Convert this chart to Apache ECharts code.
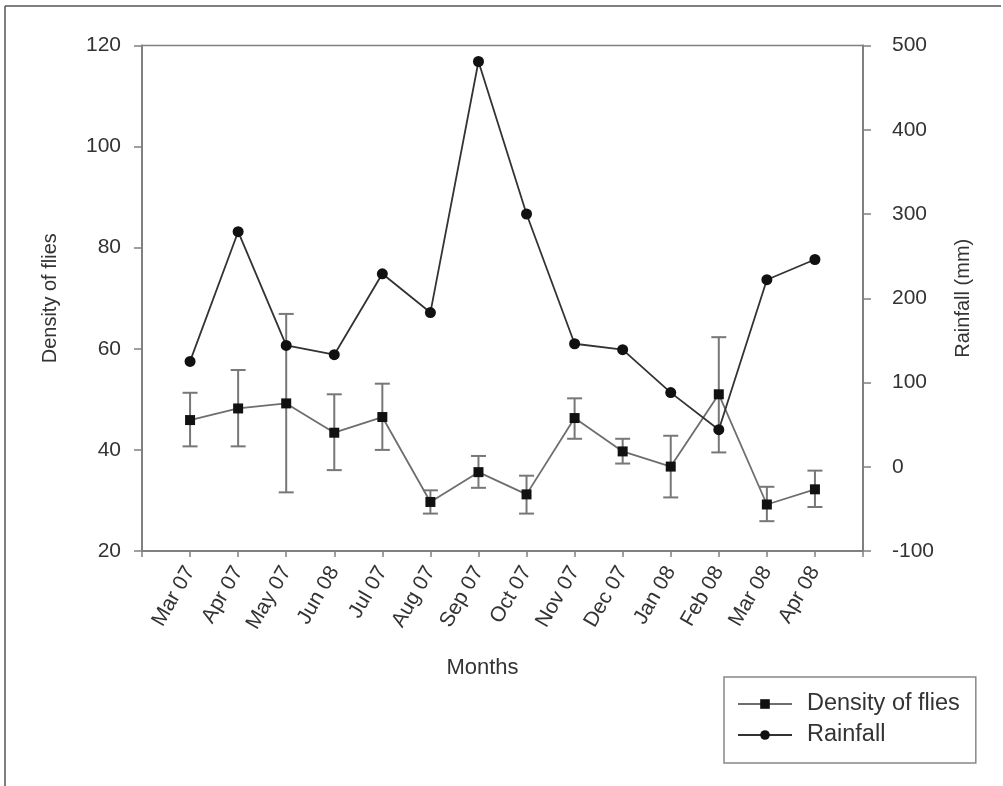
<!DOCTYPE html>
<html>
<head>
<meta charset="utf-8">
<script src="https://cdn.jsdelivr.net/npm/echarts@6/dist/echarts.min.js"></script>
<style>html,body{margin:0;padding:0;background:#fff}#c{width:1003px;height:786px}</style>
</head>
<body>
<div id="c"></div>
<script>
const months = ['Mar 07','Apr 07','May 07','Jun 08','Jul 07','Aug 07','Sep 07','Oct 07','Nov 07','Dec 07','Jan 08','Feb 08','Mar 08','Apr 08'];
const density = [45.9, 48.2, 49.2, 43.4, 46.5, 29.7, 35.6, 31.2, 46.3, 39.7, 36.7, 51.0, 29.2, 32.2];
const densityHigh = [51.3, 55.8, 66.9, 51.0, 53.1, 32.0, 38.8, 34.9, 50.2, 42.2, 42.8, 62.3, 32.7, 35.9];
const densityLow = [40.7, 40.7, 31.6, 36.0, 40.0, 27.4, 32.5, 27.4, 42.2, 37.3, 30.6, 39.5, 25.9, 28.7];
const rainfall = [125, 279, 144, 133, 229, 183, 481, 300, 146, 139, 88, 44, 222, 246];
const leftTicks = {min: 20, max: 120, interval: 20};
const rightTicks = {min: -100, max: 500, interval: 100};

const FONT = 'Liberation Sans, Arial, sans-serif';
const AX = '#808080';
const TXT = '#333';

const chart = echarts.init(document.getElementById('c'), null, {renderer: 'canvas'});
chart.setOption({
  animation: false,
  backgroundColor: '#fff',
  textStyle: {fontFamily: FONT},
  grid: {left: 142, right: 140, top: 45.5, bottom: 235, show: true, borderColor: AX, borderWidth: 1.5, containLabel: false},
  graphic: [
    {type: 'line', shape: {x1: 5, y1: 6, x2: 1001, y2: 6}, style: {stroke: '#555', lineWidth: 1.5}},
    {type: 'line', shape: {x1: 5, y1: 6, x2: 5, y2: 786}, style: {stroke: '#555', lineWidth: 1.5}}
  ],
  legend: {
    left: 724, top: 677,
    orient: 'vertical',
    data: ['Density of flies', 'Rainfall'],
    borderColor: '#888', borderWidth: 1.5,
    padding: [15, 16, 16, 13],
    itemWidth: 54, itemHeight: 12, itemGap: 7,
    textStyle: {fontSize: 23.5, color: TXT, fontFamily: FONT, padding: [0, 0, 0, 10]}
  },
  xAxis: {
    type: 'value', min: 0, max: 15, interval: 1,
    name: 'Months', nameLocation: 'middle', nameGap: 106,
    nameTextStyle: {fontSize: 22, color: TXT, padding: [0, 40, 0, 0]},
    axisLine: {show: true, onZero: false, lineStyle: {color: AX, width: 2}},
    axisTick: {show: true, length: 6, lineStyle: {color: AX, width: 1.5}},
    splitLine: {show: false},
    axisLabel: {rotate: 60, fontSize: 21, color: TXT, margin: 17,
      formatter: v => months[v - 1] || ''}
  },
  yAxis: [
    {
      type: 'value', position: 'left', ...leftTicks,
      name: 'Density of flies', nameLocation: 'middle', nameGap: 82, nameRotate: 90,
      nameTextStyle: {fontSize: 20, color: TXT},
      axisLine: {show: true, lineStyle: {color: AX, width: 2}},
      axisTick: {show: true, length: 8, lineStyle: {color: AX, width: 1.5}},
      splitLine: {show: false},
      axisLabel: {fontSize: 21, color: TXT, margin: 21}
    },
    {
      type: 'value', position: 'right', ...rightTicks,
      name: 'Rainfall (mm)', nameLocation: 'middle', nameGap: 90, nameRotate: 90,
      nameTextStyle: {fontSize: 20, color: TXT},
      axisLine: {show: true, lineStyle: {color: AX, width: 2}},
      axisTick: {show: true, length: 8, lineStyle: {color: AX, width: 1.5}},
      splitLine: {show: false},
      axisLabel: {fontSize: 21, color: TXT, margin: 29}
    }
  ],
  series: [
    {
      type: 'custom', name: 'err', yAxisIndex: 0, z: 1,
      encode: {x: 0, y: [1, 2]},
      data: months.map((m, i) => [i + 1, densityHigh[i], densityLow[i]]),
      renderItem: (params, api) => {
        const x = api.value(0);
        const hi = api.coord([x, api.value(1)]);
        const lo = api.coord([x, api.value(2)]);
        const w = 7.5;
        const st = {stroke: '#777', lineWidth: 2};
        return {type: 'group', children: [
          {type: 'line', shape: {x1: hi[0], y1: hi[1], x2: lo[0], y2: lo[1]}, style: st},
          {type: 'line', shape: {x1: hi[0] - w, y1: hi[1], x2: hi[0] + w, y2: hi[1]}, style: st},
          {type: 'line', shape: {x1: lo[0] - w, y1: lo[1], x2: lo[0] + w, y2: lo[1]}, style: st}
        ]};
      }
    },
    {
      type: 'line', name: 'Density of flies', yAxisIndex: 0, z: 3,
      data: months.map((m, i) => [i + 1, density[i]]),
      symbol: 'rect', symbolSize: 10,
      itemStyle: {color: '#111'},
      lineStyle: {color: '#6e6e6e', width: 1.8}
    },
    {
      type: 'line', name: 'Rainfall', yAxisIndex: 1, z: 4,
      data: months.map((m, i) => [i + 1, rainfall[i]]),
      symbol: 'circle', symbolSize: 11,
      itemStyle: {color: '#111'},
      lineStyle: {color: '#333', width: 1.8}
    }
  ]
});
</script>
</body>
</html>
